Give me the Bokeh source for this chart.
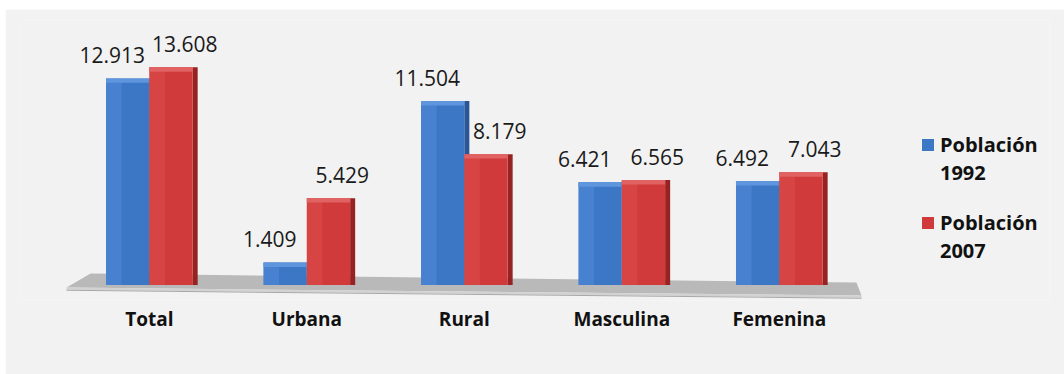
from bokeh.plotting import figure
from bokeh.models import Range1d, FixedTicker, ColumnDataSource, Legend, LegendItem, Spacer
from bokeh.layouts import column, row
from bokeh.embed import file_html
from bokeh.resources import INLINE
from bokeh.core.properties import value

# ---- data ----
categories = ["Total", "Urbana", "Rural", "Masculina", "Femenina"]
series_label = "Población"
series_years = ["1992", "2007"]
pob_1992 = [12.913, 1.409, 11.504, 6.421, 6.492]
pob_2007 = [13.608, 5.429, 8.179, 6.565, 7.043]

n = len(categories)
idx = list(range(n))
FONT = "Open Sans"

p = figure(width=1059, height=365,
           x_range=Range1d(-0.818, 5.722), y_range=Range1d(-0.969, 16.531),
           output_backend="svg", toolbar_location=None,
           min_border_left=15, min_border_right=14, min_border_top=11, min_border_bottom=74)
p.background_fill_color = "#f2f2f2"
p.border_fill_color = "#f2f2f2"
p.outline_line_color = None
p.grid.visible = False
p.yaxis.visible = False

# ---- floor ----
fx = [-0.526, -0.373, n - 1 + 0.490, n - 1 + 0.522]
fy = [-0.156, 0.719, 0.156, -0.656]
p.patch(fx, fy, fill_color="#b9b9b9", line_color=None)
p.patch([-0.526, n - 1 + 0.522, n - 1 + 0.522, -0.526],
        [-0.156, -0.656, -0.80, -0.30], fill_color="#d2d2d2", line_color=None)
p.patch([-0.526, n - 1 + 0.522, n - 1 + 0.522, -0.526],
        [-0.30, -0.80, -0.86, -0.36], fill_color="#a8a8a8", line_color=None)

W = 0.275
SIDE = 0.032


def draw_series(vals, off, face, side, cap, light):
    xs = [i + off for i in idx]
    src = ColumnDataSource(dict(x=xs, top=vals,
                                xs=[x + W / 2 + SIDE / 2 for x in xs],
                                xl=[x - W / 2 + W * 0.18 for x in xs],
                                capb=[v - 0.28 for v in vals]))
    p.vbar(x="xs", top="top", bottom=0, width=SIDE, source=src,
           fill_color=side, line_color=None)
    r = p.vbar(x="x", top="top", bottom=0, width=W, source=src,
               fill_color=face, line_color=None)
    p.vbar(x="xl", top="top", bottom=0, width=W * 0.36, source=src,
           fill_color=light, fill_alpha=0.35, line_color=None)
    p.vbar(x="x", top="top", bottom="capb", width=W, source=src,
           fill_color=cap, line_color=None)
    return r


# draw blue first so the red bar covers its side
r1 = draw_series(pob_1992, -W / 2, "#3c77c6", "#2a5596", "#5f95dc", "#5c95e0")
r2 = draw_series(pob_2007, W / 2, "#d03a3a", "#962222", "#e06262", "#e25a5a")

# ---- value labels ----
for vals, off in ((pob_1992, -0.235), (pob_2007, 0.225)):
    lsrc = ColumnDataSource(dict(x=[i + off for i in idx], y=vals,
                                 t=[f"{v:.3f}" for v in vals]))
    p.text(x="x", y="y", text="t", source=lsrc, text_align="center",
           text_baseline="bottom", y_offset=-15,
           text_font=value(FONT), text_font_size="21px", text_color="#1a1a1a")

# ---- x axis ----
p.xaxis.ticker = FixedTicker(ticks=idx)
p.xaxis.major_label_overrides = {i: c for i, c in zip(idx, categories)}
p.xaxis.axis_line_color = None
p.xaxis.major_tick_line_color = None
p.xaxis.minor_tick_line_color = None
p.xaxis.major_label_standoff = -1
p.xaxis.major_label_text_font = FONT
p.xaxis.major_label_text_font_size = "19px"
p.xaxis.major_label_text_font_style = "bold"
p.xaxis.major_label_text_color = "#111111"

# ---- legend (one per series: marker on the first line only) ----
blank = p.scatter(x=[], y=[], size=1, fill_alpha=0, line_alpha=0)


def make_legend(r, year, y_loc):
    lg = Legend(items=[LegendItem(label=series_label, renderers=[r]),
                       LegendItem(label=year, renderers=[blank])],
                location=(900, y_loc), orientation="vertical",
                label_text_font=FONT, label_text_font_size="20px",
                label_text_font_style="bold", label_text_color="#111111",
                label_height=28, glyph_width=15, glyph_height=15, spacing=0,
                padding=0, margin=0, label_standoff=5,
                background_fill_alpha=0, border_line_alpha=0)
    p.add_layout(lg)


make_legend(r1, series_years[0], 114)
make_legend(r2, series_years[1], 36)

layout = column(Spacer(width=1064, height=9), row(Spacer(width=5, height=365), p))
open("out.html", "w").write(file_html(layout, INLINE))
